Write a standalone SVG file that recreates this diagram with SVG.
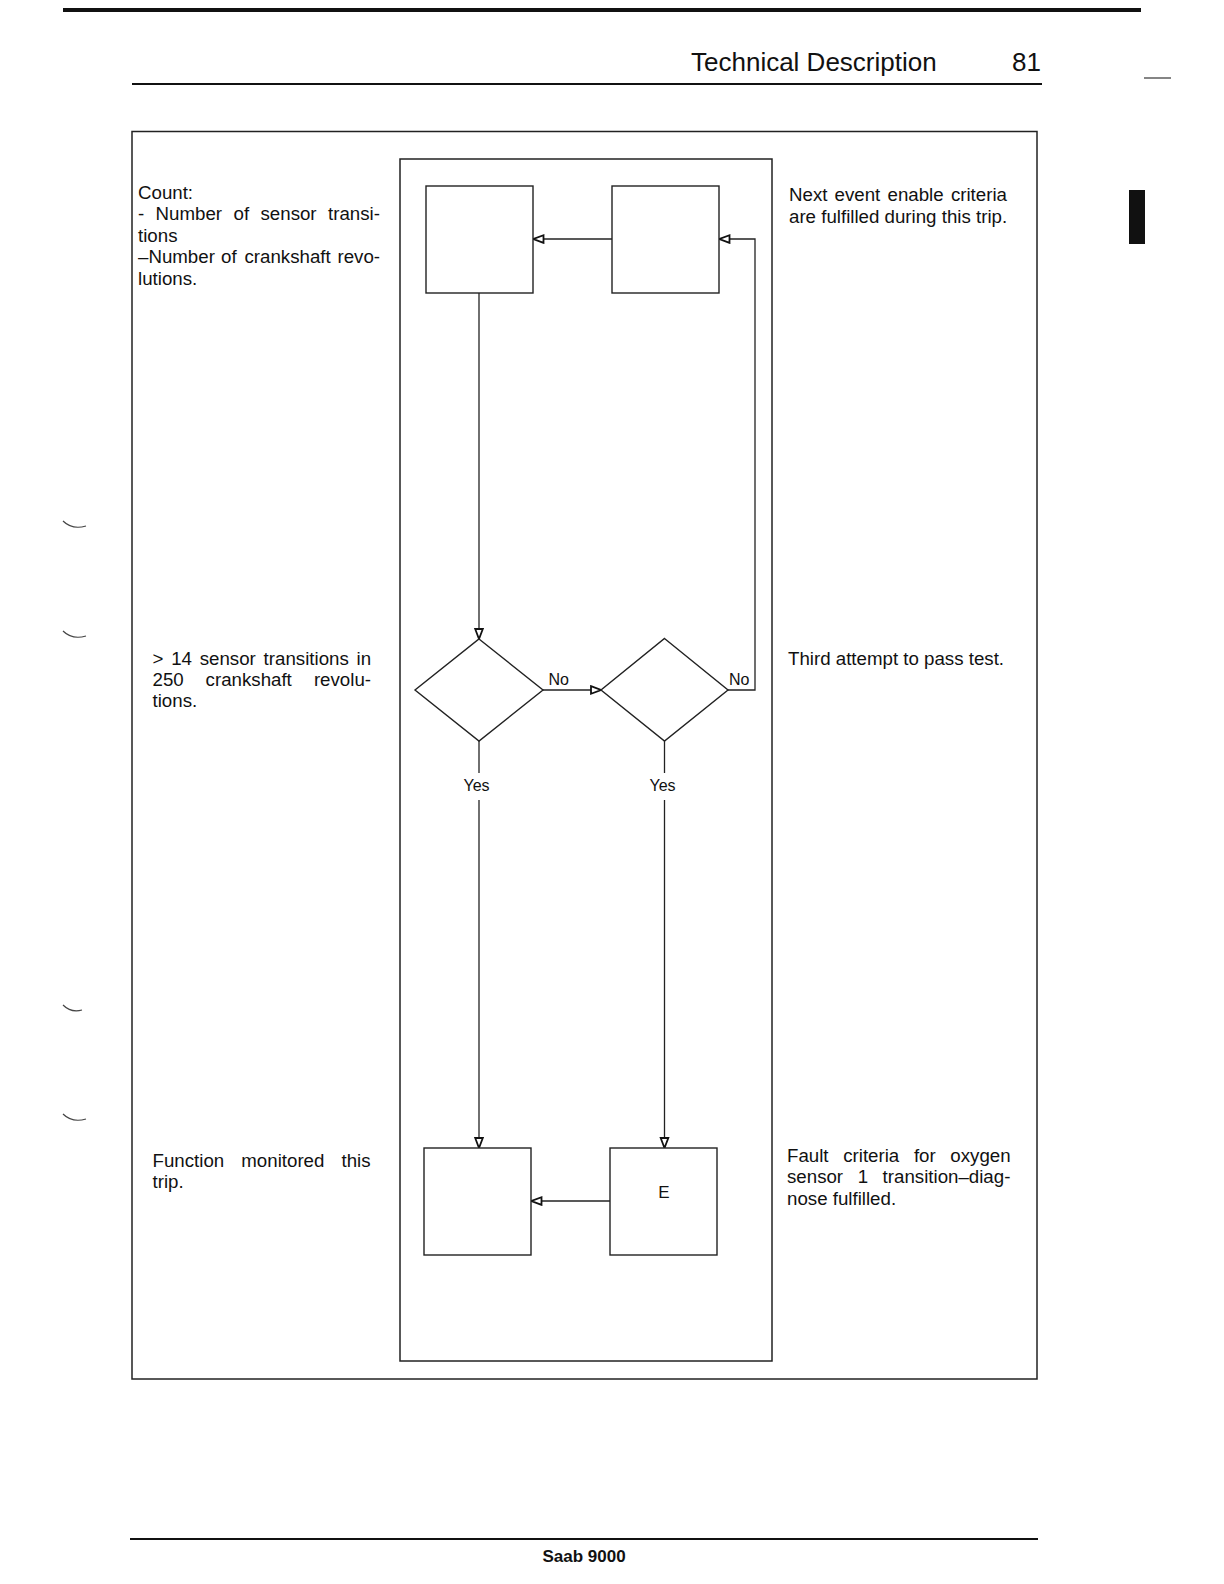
<svg xmlns="http://www.w3.org/2000/svg" width="1224" height="1584" viewBox="0 0 1224 1584">
<style>
  .t { font-family: "Liberation Sans", Arial, sans-serif; font-size: 18.7px; fill: #111; }
  .lbl { font-family: "Liberation Sans", Arial, sans-serif; font-size: 16px; fill: #111; }
  .hdr { font-family: "Liberation Sans", Arial, sans-serif; font-size: 26px; fill: #111; }
  .box { fill: #fff; stroke: #222; stroke-width: 1.4; }
  .frame { fill: none; stroke: #222; stroke-width: 1.5; }
  .con { fill: none; stroke: #222; stroke-width: 1.3; }
  .arr { marker-end: url(#ah); }
  .mark { fill: none; stroke: #444; stroke-width: 1.2; }
</style>
<defs>
  <marker id="ah" markerUnits="userSpaceOnUse" markerWidth="13" markerHeight="11" refX="11" refY="5" orient="auto">
    <path d="M1,1.2 L11,5 L1,8.8 Z" fill="#fff" stroke="#111" stroke-width="1.8" stroke-linejoin="miter"/>
  </marker>
</defs>
<rect width="1224" height="1584" fill="#fff"/>

<!-- page header -->
<g id="page-header">
  <line x1="63" y1="10" x2="1141" y2="10" stroke="#111" stroke-width="4"/>
  <text class="hdr" x="691" y="71">Technical Description</text>
  <text class="hdr" x="1041" y="71" text-anchor="end">81</text>
  <line x1="132" y1="84" x2="1042" y2="84" stroke="#111" stroke-width="2"/>
  <line x1="1144" y1="78" x2="1171" y2="78" stroke="#333" stroke-width="1.2"/>
  <rect x="1129" y="190" width="16" height="54" fill="#111"/>
</g>

<!-- scan marks -->
<g id="scan-marks">
  <path class="mark" d="M63,521 Q72,530 86,526"/>
  <path class="mark" d="M63,631 Q72,640 86,636"/>
  <path class="mark" d="M63,1005 Q71,1013 82,1010"/>
  <path class="mark" d="M63,1114 Q72,1123 86,1119"/>
</g>

<!-- frames -->
<g id="frames">
  <rect class="frame" x="132" y="131.5" width="905" height="1247.5"/>
  <rect class="frame" x="400" y="159" width="372" height="1202"/>
</g>

<!-- connectors -->
<g id="connectors">
  <line class="con arr" x1="479" y1="293" x2="479" y2="639"/>
  <line class="con arr" x1="612" y1="239" x2="533.5" y2="239"/>
  <line class="con arr" x1="543" y1="690" x2="601" y2="690"/>
  <polyline class="con arr" points="728,690 755,690 755,239 719.5,239"/>
  <line class="con" x1="479" y1="741" x2="479" y2="773"/>
  <line class="con arr" x1="479" y1="800" x2="479" y2="1148"/>
  <line class="con" x1="664.5" y1="741" x2="664.5" y2="773"/>
  <line class="con arr" x1="664.5" y1="800" x2="664.5" y2="1148"/>
  <line class="con arr" x1="610" y1="1201" x2="531.5" y2="1201"/>
  <text class="lbl" x="548.5" y="685">No</text>
  <text class="lbl" x="729" y="685">No</text>
  <text class="lbl" x="476.5" y="791" text-anchor="middle">Yes</text>
  <text class="lbl" x="662.5" y="791" text-anchor="middle">Yes</text>
</g>

<!-- nodes -->
<g id="box-a"><rect class="box" x="426" y="186" width="107" height="107"/></g>
<g id="box-b"><rect class="box" x="612" y="186" width="107" height="107"/></g>
<g id="diamond-1"><polygon class="box" points="479,639 543,690 479,741 415,690"/></g>
<g id="diamond-2"><polygon class="box" points="664.5,638.5 728,690 664.5,741 601,690"/></g>
<g id="box-c"><rect class="box" x="424" y="1148" width="107" height="107"/></g>
<g id="box-d">
  <rect class="box" x="610" y="1148" width="107" height="107"/>
  <text class="t" x="664" y="1198" text-anchor="middle" style="font-size:17px">E</text>
</g>

<!-- descriptions -->
<g id="text-count">
  <text class="t" x="138" y="199">Count:</text>
  <text class="t" y="220.4"><tspan x="138">-</tspan><tspan x="155.6">Number</tspan><tspan x="233.5">of</tspan><tspan x="260.5">sensor</tspan><tspan x="328">transi-</tspan></text>
  <text class="t" x="138" y="241.8">tions</text>
  <text class="t" y="263.2"><tspan x="138">–Number</tspan><tspan x="221">of</tspan><tspan x="244.5">crankshaft</tspan><tspan x="337.5">revo-</tspan></text>
  <text class="t" x="138" y="284.6">lutions.</text>
</g>
<g id="text-next-event">
  <text class="t" y="201"><tspan x="789">Next</tspan><tspan x="834.6">event</tspan><tspan x="887.5">enable</tspan><tspan x="950.9">criteria</tspan></text>
  <text class="t" x="789" y="222.5">are fulfilled during this trip.</text>
</g>
<g id="text-transitions">
  <text class="t" y="664.5"><tspan x="152.5">&gt;</tspan><tspan x="171.2">14</tspan><tspan x="199.7">sensor</tspan><tspan x="263.6">transitions</tspan><tspan x="356.5">in</tspan></text>
  <text class="t" y="685.5"><tspan x="152.5">250</tspan><tspan x="205.6">crankshaft</tspan><tspan x="313.9">revolu-</tspan></text>
  <text class="t" x="152.5" y="706.5">tions.</text>
</g>
<g id="text-third-attempt">
  <text class="t" x="788" y="665">Third attempt to pass test.</text>
</g>
<g id="text-function">
  <text class="t" y="1166.5"><tspan x="152.5">Function</tspan><tspan x="241.3">monitored</tspan><tspan x="341.5">this</tspan></text>
  <text class="t" x="152.5" y="1188">trip.</text>
</g>
<g id="text-fault">
  <text class="t" y="1161.5"><tspan x="787">Fault</tspan><tspan x="843.2">criteria</tspan><tspan x="913.9">for</tspan><tspan x="950.3">oxygen</tspan></text>
  <text class="t" y="1183"><tspan x="787">sensor</tspan><tspan x="857.7">1</tspan><tspan x="882.6">transition–diag-</tspan></text>
  <text class="t" x="787" y="1204.5">nose fulfilled.</text>
</g>

<!-- footer -->
<g id="page-footer">
  <line x1="130" y1="1539" x2="1038" y2="1539" stroke="#111" stroke-width="2"/>
  <text x="584" y="1562" text-anchor="middle" style="font-family:'Liberation Sans', Arial, sans-serif; font-size:17px; font-weight:bold; fill:#111">Saab 9000</text>
</g>
</svg>
